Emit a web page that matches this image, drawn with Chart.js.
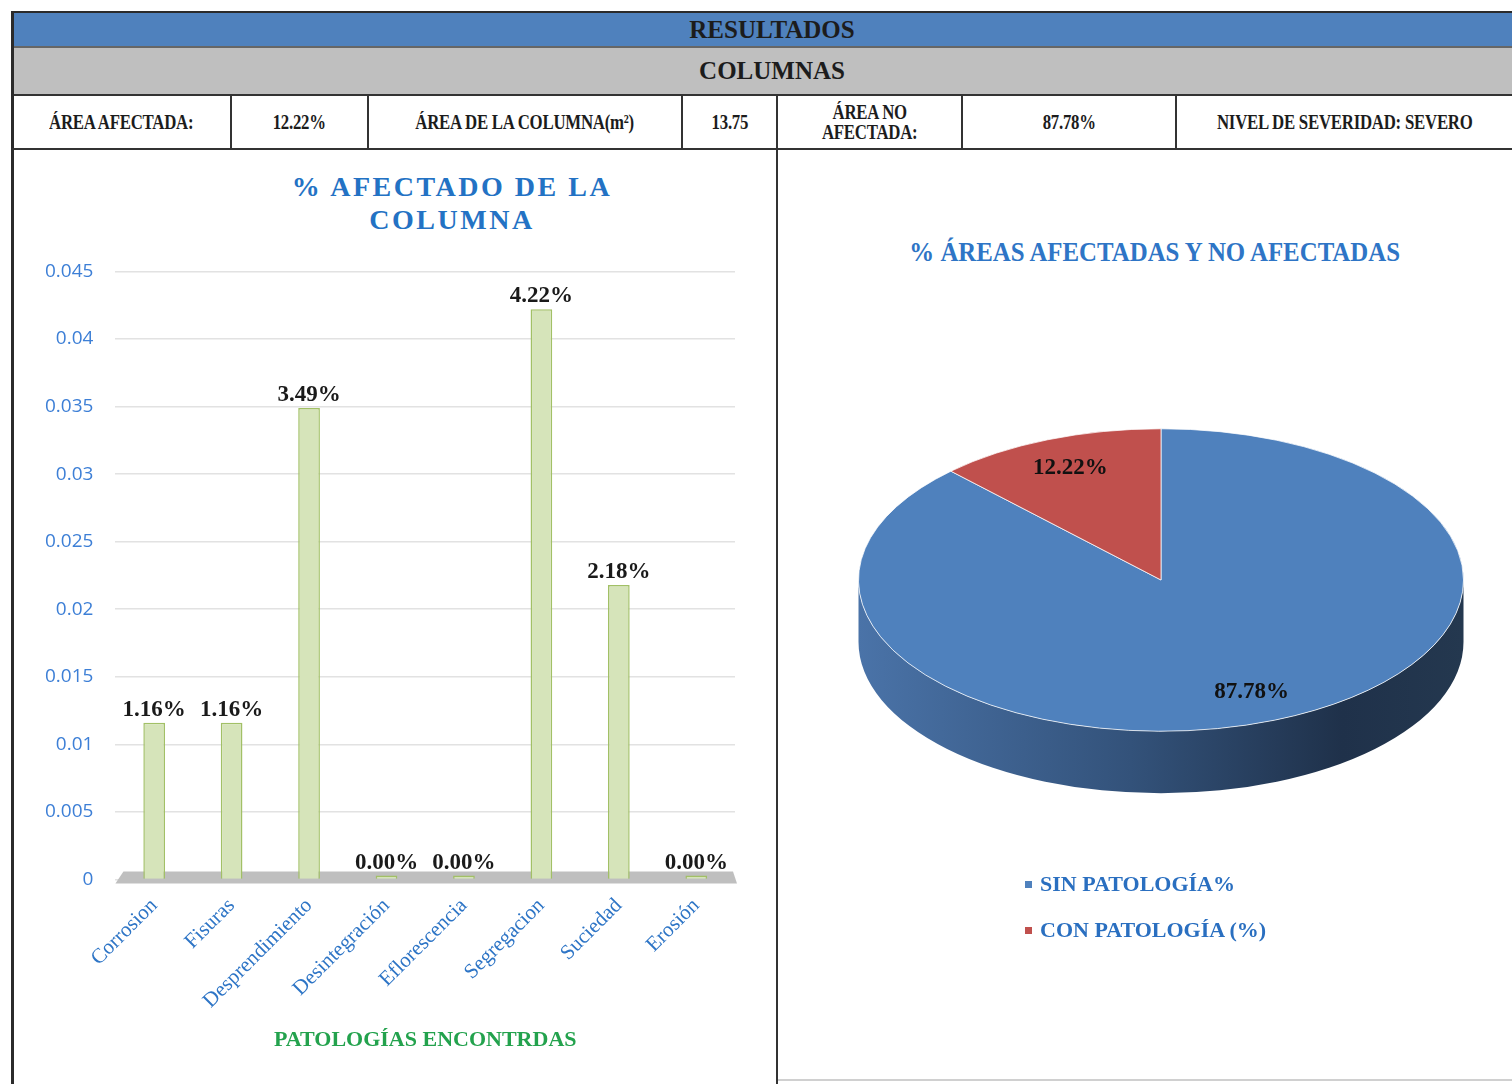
<!DOCTYPE html>
<html lang="es">
<head>
<meta charset="utf-8">
<title>Resultados - Columnas</title>
<script src="https://cdn.jsdelivr.net/npm/chart.js@4.4.1/dist/chart.umd.min.js"></script>
<style>
  html, body { margin:0; padding:0; background:#fff; }
  body { width:1512px; height:1084px; position:relative; overflow:hidden; font-family:"Liberation Serif", "Times New Roman", serif; color:#1c1c1c; }
  .abs { position:absolute; box-sizing:border-box; }
  .franja { display:flex; align-items:center; justify-content:center; font-weight:bold; font-size:25px; padding-left:20px; }
  .celda { display:flex; align-items:center; justify-content:center; text-align:center; font-weight:bold; font-size:21px; line-height:20px; border-right:2px solid #333; }
  .celda span { display:inline-block; transform:scaleX(0.8); white-space:nowrap; letter-spacing:-0.3px; }
  .titulo-izq { font-weight:bold; font-size:28px; letter-spacing:2.5px; line-height:33px; color:#2372C4; text-align:center; }
  .titulo-der { font-weight:bold; font-size:27px; line-height:32px; color:#2E75C6; text-align:center; }
  .titulo-der span { display:inline-block; transform:scaleX(0.92); white-space:nowrap; }
  .leyenda div { display:flex; align-items:center; height:46px; font-weight:bold; font-size:22px; color:#2A6FC0; }
  .leyenda i { display:inline-block; width:7px; height:7px; margin-right:8px; }
</style>
</head>
<body>

<!-- cabecera -->
<div class="abs franja" style="left:12px;top:11px;width:1500px;height:37px;background:#4F81BD;border-top:2px solid #2b2b2b;border-bottom:2px solid #666;">RESULTADOS</div>
<div class="abs franja" style="left:12px;top:48px;width:1500px;height:48px;background:#BFBFBF;border-bottom:2px solid #333;">COLUMNAS</div>
<div id="fila"></div>

<!-- marcos -->
<div class="abs" style="left:11px;top:11px;width:3px;height:1073px;background:#2b2b2b;"></div>
<div class="abs" style="left:776px;top:96px;width:2px;height:988px;background:#333;"></div>
<div class="abs" style="left:12px;top:148px;width:1500px;height:2px;background:#333;"></div>
<div class="abs" style="left:778px;top:1079px;width:734px;height:2px;background:#d0d0d0;"></div>

<div class="abs titulo-izq" style="left:72px;top:170px;width:760px;">% AFECTADO DE LA<br>COLUMNA</div>
<div class="abs titulo-der" style="left:790px;top:236px;width:730px;"><span>% ÁREAS AFECTADAS Y NO AFECTADAS</span></div>

<canvas id="chartBarras" class="abs" width="762" height="842" style="left:14px;top:238px;"></canvas>
<canvas id="chartPastel" class="abs" width="730" height="928" style="left:780px;top:152px;"></canvas>
<div id="leyenda" class="abs leyenda" style="left:1025px;top:861px;"></div>

<script>
// ---- datos ----
const celdasX     = [12, 232, 369, 683, 778, 963, 1177, 1512];
const celdasTexto = ["ÁREA AFECTADA:", "12.22%", "ÁREA DE LA COLUMNA(m²)", "13.75", "ÁREA NO<br>AFECTADA:", "87.78%", "NIVEL DE SEVERIDAD: SEVERO"];

const patologias = ["Corrosion", "Fisuras", "Desprendimiento", "Desintegración", "Eflorescencia", "Segregacion", "Suciedad", "Erosión"];
const porcAfectado = [0.0116, 0.0116, 0.0349, 0, 0, 0.0422, 0.0218, 0];
const yMin = 0, yMax = 0.045, yPaso = 0.005;

const areasEtiquetas = ["SIN PATOLOGÍA%", "CON PATOLOGÍA (%)"];
const areasValores   = [87.78, 12.22];
const areasColores   = ["#4F81BD", "#C0504D"];

// ---- fila de datos de la cabecera ----
const fila = document.getElementById("fila");
celdasTexto.forEach((t, i) => {
  const d = document.createElement("div");
  d.className = "abs celda";
  d.style.left = celdasX[i] + "px";
  d.style.top = "96px";
  d.style.width = (celdasX[i + 1] - celdasX[i]) + "px";
  d.style.height = "52px";
  if (i === celdasTexto.length - 1) d.style.borderRight = "none";
  d.innerHTML = `<span>${t}</span>`;
  fila.appendChild(d);
});

// ---- barras ----
const pisoPlugin = {
  id: "piso",
  beforeDatasetsDraw(chart) {
    const { ctx, chartArea: a, scales } = chart;
    const y0 = scales.y.getPixelForValue(0);
    ctx.save();
    ctx.fillStyle = "#BFBFBF";
    ctx.beginPath();
    ctx.moveTo(a.left + 8, y0 - 8);
    ctx.lineTo(a.right - 2, y0 - 8);
    ctx.lineTo(a.right + 2, y0 + 4);
    ctx.lineTo(a.left, y0 + 4);
    ctx.closePath();
    ctx.fill();
    ctx.restore();
  }
};

const etiquetasBarras = {
  id: "etiquetasBarras",
  afterDatasetsDraw(chart) {
    const { ctx } = chart;
    const meta = chart.getDatasetMeta(0);
    ctx.save();
    ctx.font = "bold 23px 'Liberation Serif'";
    ctx.fillStyle = "#1a1a1a";
    ctx.textAlign = "center";
    ctx.textBaseline = "alphabetic";
    meta.data.forEach((el, i) => {
      const v = chart.data.datasets[0].data[i];
      ctx.fillText((v * 100).toFixed(2) + "%", el.x, el.y - 7);
    });
    ctx.restore();
  }
};

new Chart(document.getElementById("chartBarras"), {
  type: "bar",
  data: {
    labels: patologias,
    datasets: [{
      data: porcAfectado,
      backgroundColor: "#D6E4BA",
      borderColor: "#A2C066",
      borderWidth: 1.5,
      barPercentage: 1,
      categoryPercentage: 0.28,
      minBarLength: 4
    }]
  },
  options: {
    responsive: false,
    animation: false,
    layout: { padding: { left: 9, right: 41, top: 7, bottom: 26 } },
    plugins: { legend: { display: false }, tooltip: { enabled: false } },
    scales: {
      y: {
        min: yMin, max: yMax,
        border: { display: false },
        grid: { color: "#E2E2E2", lineWidth: 1.5, drawTicks: false },
        ticks: {
          stepSize: yPaso, padding: 22, color: "#3D7FD6",
          font: { family: "'Open Sans'", size: 19 },
          callback: v => String(Number(v.toFixed(3)))
        }
      },
      x: {
        border: { display: false },
        grid: { display: false, drawTicks: false },
        ticks: {
          autoSkip: false, maxRotation: 45, minRotation: 45, padding: 14,
          color: "#2E75C6", font: { family: "'Liberation Serif'", size: 21 }
        },
        title: {
          display: true, text: "PATOLOGÍAS ENCONTRDAS", color: "#23A24D",
          font: { family: "'Liberation Serif'", size: 22, weight: "bold" },
          padding: { top: 0, bottom: 0 }
        }
      }
    }
  },
  plugins: [pisoPlugin, etiquetasBarras]
});

// ---- pastel 3D ----
const K = 0.5;      // achatamiento vertical
const FONDO = 62;   // espesor del disco, px

const pastel3D = {
  id: "pastel3D",
  beforeDatasetsDraw(chart) {
    const { ctx } = chart;
    const meta = chart.getDatasetMeta(0);
    const el0 = meta.data[0];
    const cx = el0.x, cy = el0.y, r = el0.outerRadius;
    ctx.save();
    ctx.translate(cx, cy);
    ctx.scale(1, K);
    ctx.translate(-cx, -cy);
    // lateral del disco (solo mitad frontal)
    const g = ctx.createLinearGradient(cx - r, 0, cx + r, 0);
    g.addColorStop(0, "#4A73A8");
    g.addColorStop(0.45, "#33527A");
    g.addColorStop(0.8, "#1F314A");
    g.addColorStop(1, "#24384F");
    const dz = FONDO / K;
    meta.data.forEach(el => {
      const s = el.startAngle, e = el.endAngle;
      for (let k = -1; k <= 1; k++) {
        const a0 = Math.max(s, 2 * Math.PI * k), a1 = Math.min(e, Math.PI + 2 * Math.PI * k);
        if (a1 <= a0) continue;
        ctx.beginPath();
        ctx.arc(cx, cy, r, a0, a1);
        ctx.arc(cx, cy + dz, r, a1, a0, true);
        ctx.closePath();
        ctx.fillStyle = g;
        ctx.fill();
      }
    });
  },
  afterDatasetsDraw(chart) {
    const { ctx } = chart;
    ctx.restore();
    const meta = chart.getDatasetMeta(0);
    ctx.save();
    ctx.font = "bold 23px 'Liberation Serif'";
    ctx.fillStyle = "#111";
    ctx.textAlign = "center";
    ctx.textBaseline = "middle";
    meta.data.forEach((el, i) => {
      const mid = (el.startAngle + el.endAngle) / 2;
      const f = 0.8;
      const x = el.x + Math.cos(mid) * el.outerRadius * f;
      const y = el.y + Math.sin(mid) * el.outerRadius * f * K;
      ctx.fillText(chart.data.datasets[0].data[i].toFixed(2) + "%", x, y);
    });
    ctx.restore();
  }
};

new Chart(document.getElementById("chartPastel"), {
  type: "pie",
  data: {
    labels: areasEtiquetas,
    datasets: [{ data: areasValores, backgroundColor: areasColores, borderColor: "#ffffff", borderWidth: 1 }]
  },
  options: {
    responsive: false,
    animation: false,
    layout: { padding: { left: 78, right: 46, top: 125, bottom: 197 } },
    plugins: { legend: { display: false }, tooltip: { enabled: false } }
  },
  plugins: [pastel3D]
});

// leyenda
const ley = document.getElementById("leyenda");
areasEtiquetas.forEach((t, i) => {
  const d = document.createElement("div");
  d.innerHTML = `<i style="background:${areasColores[i]}"></i>${t}`;
  ley.appendChild(d);
});
</script>
</body>
</html>
